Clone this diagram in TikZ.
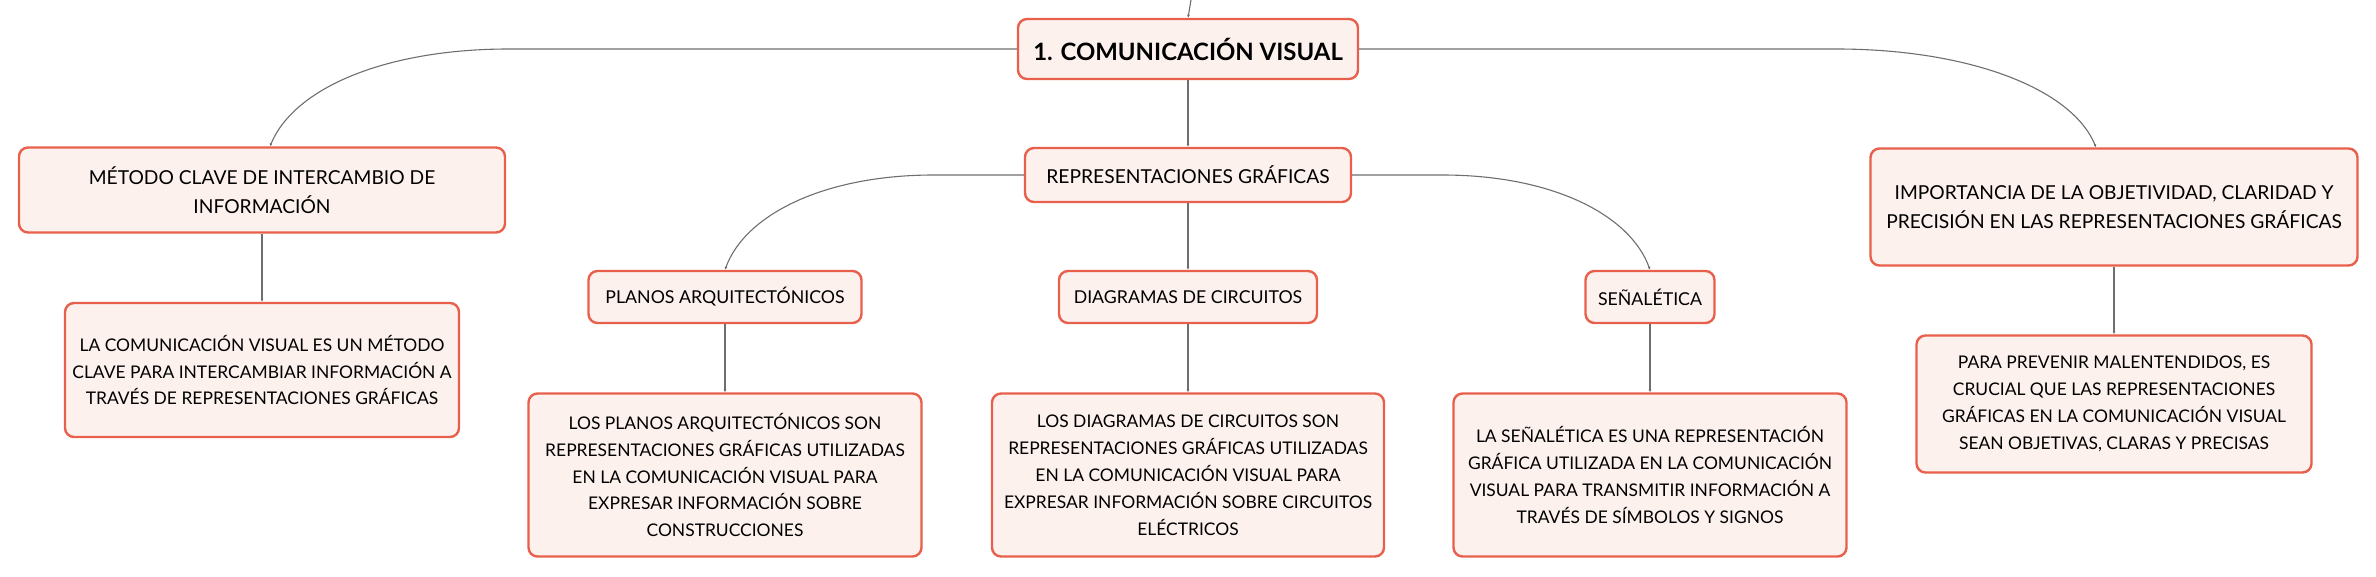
\documentclass[tikz,border=0pt]{standalone}
\usepackage{fontspec}
\setmainfont{Lato}
\usepackage{tikz}
\usetikzlibrary{arrows.meta}

\definecolor{boxred}{HTML}{E8604C}
\definecolor{boxfill}{HTML}{FDF1EE}
\definecolor{linkgray}{HTML}{6E6E6E}

\begin{document}
\begin{tikzpicture}[x=1bp, y=1bp,
		topic/.style={draw=boxred, fill=boxfill, line width=2.4bp, rounded corners=9bp,
			align=center, inner sep=0pt, text=black,
			font={\fontsize{19.3}{29.5}\selectfont}},
		subtopic/.style={topic, font={\fontsize{17.8}{27}\selectfont}},
		leaf/.style={topic, font={\fontsize{17.5}{27}\selectfont}},
		link/.style={draw=linkgray, line width=1.1bp, -{Latex[length=3bp,width=3bp]}}]
		\useasboundingbox (0,0) rectangle (2376,-577);
		
		\coordinate (topin) at (1191,0);
		
		\node[topic, minimum width=340bp, minimum height=60bp,
			font={\fontsize{24}{28}\selectfont\bfseries}] (root) at (1188,-49) {1. COMUNICACIÓN VISUAL};
		
		\node[topic, minimum width=486bp, minimum height=85bp] (metodo) at (262,-190) {MÉTODO CLAVE DE INTERCAMBIO DE\\INFORMACIÓN};
		\node[topic, minimum width=326bp, minimum height=54bp] (repr) at (1188,-175) {REPRESENTACIONES GRÁFICAS};
		\node[topic, minimum width=487bp, minimum height=117bp] (importancia) at (2114,-207) {IMPORTANCIA DE LA OBJETIVIDAD, CLARIDAD Y\\PRECISIÓN EN LAS REPRESENTACIONES GRÁFICAS};
		
		\node[subtopic, minimum width=273bp, minimum height=52bp] (planos) at (725,-297) {PLANOS ARQUITECTÓNICOS};
		\node[subtopic, minimum width=258bp, minimum height=52bp] (circuitos) at (1188,-297) {DIAGRAMAS DE CIRCUITOS};
		\node[subtopic, minimum width=129bp, minimum height=52bp] (senal) at (1650,-297) {SEÑALÉTICA};
		
		\node[leaf, minimum width=394bp, minimum height=134bp] (metodotxt) at (262,-370) {LA COMUNICACIÓN VISUAL ES UN MÉTODO\\CLAVE PARA INTERCAMBIAR INFORMACIÓN A\\TRAVÉS DE REPRESENTACIONES GRÁFICAS};
		\node[leaf, minimum width=393bp, minimum height=163bp] (planostxt) at (725,-475) {LOS PLANOS ARQUITECTÓNICOS SON\\REPRESENTACIONES GRÁFICAS UTILIZADAS\\EN LA COMUNICACIÓN VISUAL PARA\\EXPRESAR INFORMACIÓN SOBRE\\CONSTRUCCIONES};
		\node[leaf, minimum width=392bp, minimum height=163bp] (circuitostxt) at (1188,-475) {LOS DIAGRAMAS DE CIRCUITOS SON\\REPRESENTACIONES GRÁFICAS UTILIZADAS\\EN LA COMUNICACIÓN VISUAL PARA\\EXPRESAR INFORMACIÓN SOBRE CIRCUITOS\\ELÉCTRICOS};
		\node[leaf, minimum width=393bp, minimum height=163bp] (senaltxt) at (1650,-475) {LA SEÑALÉTICA ES UNA REPRESENTACIÓN\\GRÁFICA UTILIZADA EN LA COMUNICACIÓN\\VISUAL PARA TRANSMITIR INFORMACIÓN A\\TRAVÉS DE SÍMBOLOS Y SIGNOS};
		\node[leaf, minimum width=395bp, minimum height=137bp] (importanciatxt) at (2114,-404) {PARA PREVENIR MALENTENDIDOS, ES\\CRUCIAL QUE LAS REPRESENTACIONES\\GRÁFICAS EN LA COMUNICACIÓN VISUAL\\SEAN OBJETIVAS, CLARAS Y PRECISAS};
		
		% connectors
		\draw[link] (topin) -- (root.north);
		\draw[link] (root.west) -- ++(-508,0) .. controls +(-120,0) and +(25,60) .. ([xshift=8bp]metodo.north);
		\draw[link] (root.south) -- (repr.north);
		\draw[link] (root.east) -- ++(477,0) .. controls +(130,0) and +(-25,60) .. ([xshift=-18bp]importancia.north);
		
		\draw[link] (repr.west) -- ++(-90,0) .. controls +(-110,0) and +(20,55) .. (planos.north);
		\draw[link] (repr.south) -- (circuitos.north);
		\draw[link] (repr.east) -- ++(90,0) .. controls +(110,0) and +(-20,55) .. (senal.north);
		
		\draw[link] (metodo.south) -- (metodotxt.north);
		\draw[link] (planos.south) -- (planostxt.north);
		\draw[link] (circuitos.south) -- (circuitostxt.north);
		\draw[link] (senal.south) -- (senaltxt.north);
		\draw[link] (importancia.south) -- (importanciatxt.north);
	\end{tikzpicture}
\end{document}
